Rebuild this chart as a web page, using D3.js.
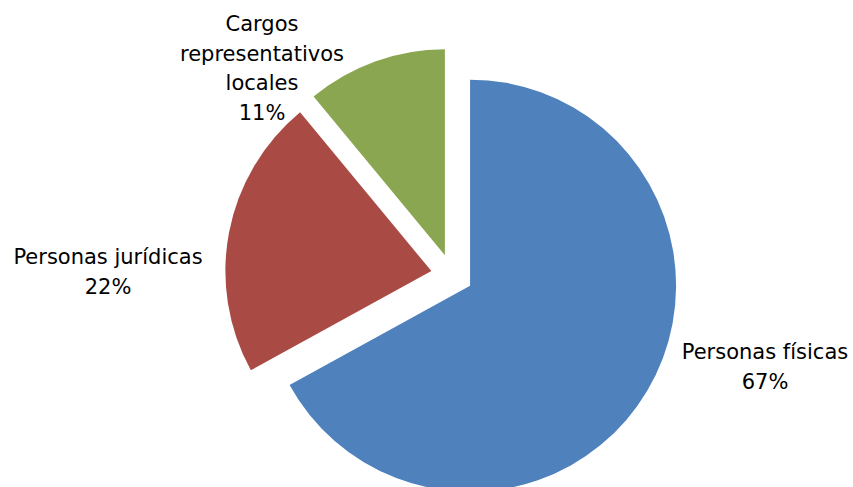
<!DOCTYPE html>
<html>
<head>
<meta charset="utf-8">
<script src="https://cdn.jsdelivr.net/npm/d3@7"></script>
<style>
  html, body { margin: 0; padding: 0; background: #ffffff; }
  svg { display: block; }
  text { font-family: "DejaVu Sans", sans-serif; font-size: 21px; fill: #000; }
</style>
</head>
<body>
<svg id="chart" width="853" height="487"></svg>
<script>
// Distribution of holders by type (percent)
const categories = ["Personas físicas", "Personas jurídicas", "Cargos representativos locales"];
const values = [67, 22, 11];
const colors = ["#4F81BD", "#AA4A45", "#8AA650"];

// Label lines, split the way they are printed next to each slice
const labelLines = [
  ["Personas físicas", "67%"],
  ["Personas jurídicas", "22%"],
  ["Cargos", "representativos", "locales", "11%"]
];

// Layout
const width = 853, height = 487;
const cx = 452, cy = 275;          // pie centre
const radius = 206;
const explode = 21;                 // how far each slice is pulled out
const lineHeight = 29.5;
const labelPos = [                  // centre x and first baseline of each label block
  { x: 765, y: 359 },
  { x: 108, y: 264 },
  { x: 262, y: 31 }
];

const svg = d3.select("#chart");
const g = svg.append("g").attr("transform", `translate(${cx},${cy})`);

const data = categories.map((c, i) => ({ name: c, value: values[i], color: colors[i], lines: labelLines[i], pos: labelPos[i] }));

const pie = d3.pie().value(d => d.value).sort(null).startAngle(0).endAngle(2 * Math.PI);
const arc = d3.arc().innerRadius(0).outerRadius(radius);

const arcs = pie(data);

g.selectAll("path.slice")
  .data(arcs)
  .join("path")
  .attr("class", "slice")
  .attr("fill", d => d.data.color)
  .attr("d", arc)
  .attr("transform", d => {
    const mid = (d.startAngle + d.endAngle) / 2;
    return `translate(${Math.sin(mid) * explode},${-Math.cos(mid) * explode})`;
  });

// Category + percentage labels
const labels = svg.selectAll("text.label")
  .data(arcs)
  .join("text")
  .attr("class", "label")
  .attr("text-anchor", "middle");

labels.each(function (d) {
  const t = d3.select(this);
  d.data.lines.forEach((line, i) => {
    t.append("tspan")
      .attr("x", d.data.pos.x)
      .attr("y", d.data.pos.y + i * lineHeight)
      .text(line);
  });
});
</script>
</body>
</html>
